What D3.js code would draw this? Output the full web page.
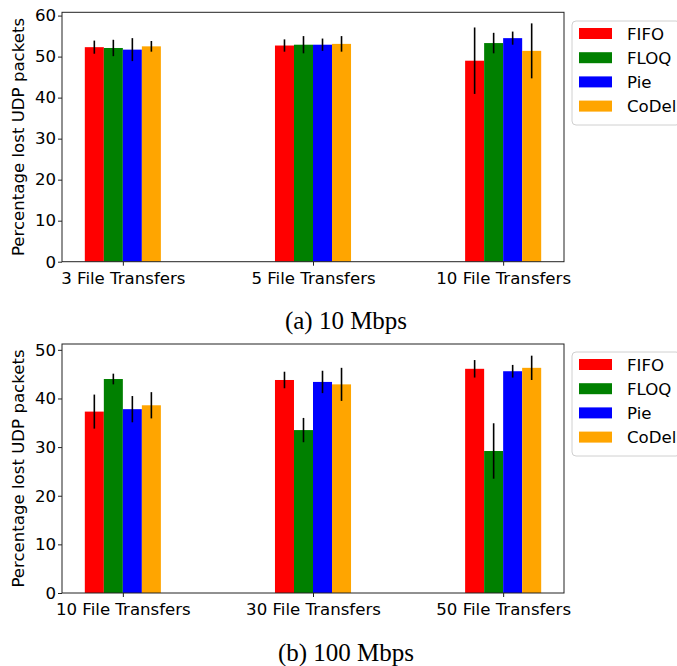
<!DOCTYPE html>
<html>
<head>
<meta charset="utf-8">
<script src="https://cdn.jsdelivr.net/npm/d3@7"></script>
<style>
  body { margin: 0; background: #fff; }
  text { font-family: "DejaVu Sans", sans-serif; fill: #000; }
  .caption { font-family: "Liberation Serif", "Times New Roman", serif; }
</style>
</head>
<body>
<svg id="chart" width="677" height="666"></svg>
<script>
"use strict";

// Séries et couleurs (communes aux deux graphiques)
var series = ["FIFO", "FLOQ", "Pie", "CoDel"];
var colors = ["red", "green", "blue", "orange"];

// (a) 10 Mbps
var categoriesA = ["3 File Transfers", "5 File Transfers", "10 File Transfers"];
var meansA = [
  [52.3, 52.7, 49.0],   // FIFO
  [52.1, 52.9, 53.3],   // FLOQ
  [51.7, 52.9, 54.5],   // Pie
  [52.5, 53.1, 51.4]    // CoDel
];
var errorsA = [
  [1.6, 1.5, 8.1],
  [2.0, 2.1, 2.5],
  [2.8, 1.5, 1.6],
  [1.3, 1.9, 6.7]
];
var ticksA = [0, 10, 20, 30, 40, 50, 60];

// (b) 100 Mbps
var categoriesB = ["10 File Transfers", "30 File Transfers", "50 File Transfers"];
var meansB = [
  [37.3, 43.8, 46.1],
  [44.0, 33.5, 29.2],
  [37.8, 43.4, 45.6],
  [38.6, 42.9, 46.3]
];
var errorsB = [
  [3.5, 1.7, 1.8],
  [1.1, 2.5, 5.7],
  [2.7, 2.3, 1.3],
  [2.7, 3.4, 2.5]
];
var ticksB = [0, 10, 20, 30, 40, 50];

var svg = d3.select("#chart");
var fontSize = "16.6px";

/**
 * Dessine un graphique à barres groupées avec barres d'erreur.
 */
function panel(svg, opt) {
  var x = d3.scaleLinear().domain([-0.32, 2.32]).range([opt.left, opt.right]);
  var y = d3.scaleLinear().domain([0, opt.ymax]).range([opt.bottom, opt.top]);
  var barW = 0.1;

  var g = svg.append("g");

  // barres
  series.forEach(function (s, si) {
    var rows = opt.categories.map(function (c, ci) {
      return { c: ci, v: opt.means[si][ci], e: opt.errors[si][ci] };
    });
    g.selectAll(null)
      .data(rows)
      .enter()
      .append("rect")
      .attr("fill", colors[si])
      .attr("x", function (d) { return x(d.c - 0.2 + si * barW); })
      .attr("width", x(barW) - x(0))
      .attr("y", function (d) { return y(d.v); })
      .attr("height", function (d) { return y(0) - y(d.v); });

    // barres d'erreur
    g.selectAll(null)
      .data(rows)
      .enter()
      .append("line")
      .attr("stroke", "black")
      .attr("stroke-width", 1.6)
      .attr("x1", function (d) { return x(d.c - 0.2 + si * barW + barW / 2); })
      .attr("x2", function (d) { return x(d.c - 0.2 + si * barW + barW / 2); })
      .attr("y1", function (d) { return y(d.v - d.e); })
      .attr("y2", function (d) { return y(d.v + d.e); });
  });

  // axe x
  var xAxis = d3.axisBottom(x)
    .tickValues([0, 1, 2])
    .tickFormat(function (d) { return opt.categories[d]; })
    .tickSizeOuter(0)
    .tickSize(4);
  var gx = svg.append("g")
    .attr("transform", "translate(0," + opt.bottom + ")")
    .call(xAxis);
  gx.select(".domain").remove();
  gx.selectAll("text").attr("dy", "0.9em").style("font-size", fontSize).attr("font-family", null);

  // axe y
  var yAxis = d3.axisLeft(y).tickValues(opt.ticks).tickSize(4).tickSizeOuter(0);
  var gy = svg.append("g")
    .attr("transform", "translate(" + opt.left + ",0)")
    .call(yAxis);
  gy.select(".domain").remove();
  gy.selectAll("text").attr("x", -6).style("font-size", fontSize).attr("font-family", null);
  svg.selectAll(".tick line").attr("stroke", "#222");

  // cadre
  svg.append("rect")
    .attr("x", opt.left)
    .attr("y", opt.top)
    .attr("width", opt.right - opt.left)
    .attr("height", opt.bottom - opt.top)
    .attr("fill", "none")
    .attr("stroke", "#222")
    .attr("stroke-width", 1);

  // titre de l'axe y
  svg.append("text")
    .attr("transform", "translate(24," + ((opt.top + opt.bottom) / 2) + ") rotate(-90)")
    .attr("text-anchor", "middle")
    .style("font-size", fontSize)
    .text("Percentage lost UDP packets");

  // légende
  var lg = svg.append("g")
    .attr("transform", "translate(572," + opt.legendTop + ")");
  lg.append("rect")
    .attr("width", 108)
    .attr("height", 104)
    .attr("rx", 4)
    .attr("fill", "white")
    .attr("stroke", "#d0d0d0");
  lg.selectAll("rect.sw")
    .data(series)
    .enter()
    .append("rect")
    .attr("class", "sw")
    .attr("x", 7)
    .attr("y", function (d, i) { return 7 + i * 24.2; })
    .attr("width", 33)
    .attr("height", 11)
    .attr("fill", function (d, i) { return colors[i]; });
  lg.selectAll("text")
    .data(series)
    .enter()
    .append("text")
    .attr("x", 55)
    .attr("y", function (d, i) { return 18.5 + i * 24.2; })
    .style("font-size", fontSize)
    .text(function (d) { return d; });

  // légende sous le graphique
  svg.append("text")
    .attr("class", "caption")
    .attr("x", 346)
    .attr("y", opt.captionY)
    .attr("text-anchor", "middle")
    .style("font-size", "25px")
    .text(opt.caption);
}

panel(svg, {
  categories: categoriesA, means: meansA, errors: errorsA, ticks: ticksA,
  ymax: 60.8, left: 62, right: 564, top: 12.3, bottom: 261.7,
  legendTop: 21, caption: "(a) 10 Mbps", captionY: 329
});

panel(svg, {
  categories: categoriesB, means: meansB, errors: errorsB, ticks: ticksB,
  ymax: 51.2, left: 62, right: 564, top: 344, bottom: 593,
  legendTop: 352, caption: "(b) 100 Mbps", captionY: 661
});
</script>
</body>
</html>
